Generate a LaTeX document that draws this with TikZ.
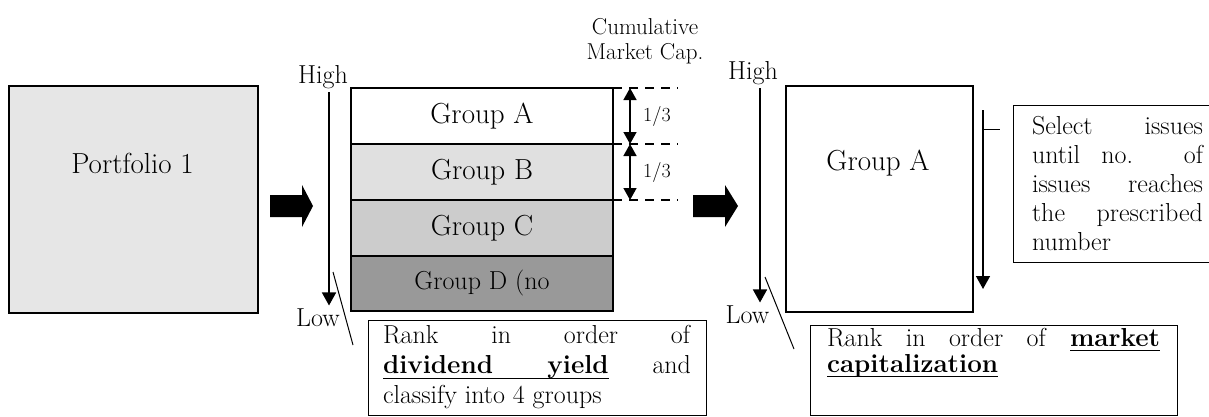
\documentclass[tikz,border=0pt]{standalone}
\usepackage{fontspec}
\usetikzlibrary{arrows.meta,positioning,calc}
\definecolor{panelgray}{RGB}{230,230,230}
\definecolor{paleB}{RGB}{224,224,224}
\definecolor{midC}{RGB}{204,204,204}
\definecolor{darkD}{RGB}{153,153,153}
\hyphenpenalty=10000
\newcommand\ulword[1]{\setbox0\hbox{#1}\rlap{\vrule height -3.8pt depth 5pt width \wd0}\box0}
\newcommand\ulgap{\leaders\hrule height -3.8pt depth 5pt\hskip\fontdimen2\font plus\fontdimen3\font minus\fontdimen4\font}

\begin{document}
\begin{tikzpicture}[x=1pt,y=-1pt,
 panel/.style={draw,line width=1.3pt,minimum width=249pt,minimum height=227pt,inner sep=0pt,outer sep=0pt},
 grp/.style={draw,line width=1.2pt,minimum width=262pt,minimum height=56pt,inner sep=0pt,outer sep=0pt,font=\fontsize{29}{32}\selectfont},
 biglbl/.style={font=\fontsize{29}{32}\selectfont},
 axlbl/.style={font=\fontsize{26}{30}\selectfont},
 note/.style={draw,line width=1pt,align=justify,inner ysep=3pt,outer sep=0pt,font=\fontsize{26}{29}\selectfont},
 bigarr/.style={fill=black},
 rank/.style={-{Triangle[length=13pt,width=14pt]},line width=1.5pt},
 dim/.style={{Triangle[length=12pt,width=13pt]}-{Triangle[length=12pt,width=13pt]},line width=1.5pt},
 lead/.style={line width=1pt},
 guide/.style={line width=1.2pt,dash pattern=on 9pt off 7pt}]
\useasboundingbox (0,0) rectangle (1209,416);
\node[panel,fill=panelgray,anchor=north west] (portfolio) at (9,86) {};
\node[biglbl] (portname) at (132.5,163) {Portfolio 1};
\coordinate (go1) at (270,195);
\fill[bigarr] (go1) -- ++(32,0) -- ++(0,-10) -- ++(11,21) -- ++(-11,21) -- ++(0,-10) -- ++(-32,0) -- cycle;
\node[grp,fill=white,anchor=north west] (grpA) at (351,88) {Group A};
\node[grp,fill=paleB,below=0pt of grpA] (grpB) {Group B};
\node[grp,fill=midC,below=0pt of grpB] (grpC) {Group C};
\node[grp,fill=darkD,below=0pt of grpC,minimum height=55pt,font=\fontsize{26}{30}\selectfont] (grpD) {Group D (no};
\node[axlbl] (highL) at (323,77) {High};
\node[axlbl] (lowL) at (318,318) {Low};
\draw[rank] ([xshift=6pt]highL.south) -- ([xshift=11pt]lowL.north);
\coordinate (ldL0) at (333,272); \coordinate (ldL1) at (353,345);
\draw[lead] (ldL0) -- (ldL1);
\node[note,text width=308pt,inner xsep=15pt,minimum height=95pt,anchor=north west,font=\fontsize{26}{30}\selectfont] (rankDiv) at (368,320)
 {Rank in order of\linebreak \textbf{\ulword{dividend}\ulgap\ulword{yield}} and\linebreak classify into 4 groups};
\coordinate[right=65pt of grpA.north east] (cap0);
\coordinate[right=65pt of grpB.north east] (cap1);
\coordinate[right=65pt of grpC.north east] (cap2);
\draw[guide] (grpA.north east) -- (cap0);
\draw[guide] (grpB.north east) -- (cap1);
\draw[guide] (grpC.north east) -- (cap2);
\coordinate[right=17pt of grpA.north east] (dm0);
\coordinate[right=17pt of grpB.north east] (dm1);
\coordinate[right=17pt of grpC.north east] (dm2);
\draw[dim] (dm0) -- (dm1); \draw[dim] (dm1) -- (dm2);
\coordinate (mid1) at ($(dm0)!.5!(dm1)$); \coordinate (mid2) at ($(dm1)!.5!(dm2)$);
\node[font=\fontsize{20}{24}\selectfont,anchor=west,inner sep=0pt] (thirdA) at ([xshift=13pt]mid1) {1/3};
\node[font=\fontsize{20}{24}\selectfont,anchor=west,inner sep=0pt] (thirdB) at ([xshift=13pt]mid2) {1/3};
\node[font=\fontsize{23}{25}\selectfont,align=center] (cumcap) at (645,41) {Cumulative\\Market Cap.};
\coordinate (go2) at (693,195);
\fill[bigarr] (go2) -- ++(32,0) -- ++(0,-10) -- ++(13,21) -- ++(-13,21) -- ++(0,-10) -- ++(-32,0) -- cycle;
\node[panel,fill=white,line width=1.2pt,minimum width=187pt,minimum height=226pt,anchor=north west] (topA) at (786,86) {};
\node[biglbl] (topAname) at (878,163) {Group A};
\node[axlbl] (highR) at (753,73) {High};
\node[axlbl] (lowR) at (747.5,315) {Low};
\draw[rank] ([xshift=7pt]highR.south) -- ([xshift=12.5pt]lowR.north);
\coordinate (ldR0) at (765,277); \coordinate (ldR1) at (794,349);
\draw[lead] (ldR0) -- (ldR1);
\node[note,text width=333pt,inner xsep=17pt,anchor=north west,font=\fontsize{26}{26}\selectfont] (rankCap) at (810,325)
 {Rank in order of \textbf{\ulword{market}} \textbf{\ulword{capitalization}}\rule[-40pt]{0pt}{40pt}};
\coordinate (selTop) at (983,110); \coordinate (selBot) at (983,289);
\draw[rank] (selTop) -- (selBot);
\coordinate (tick0) at (983,129);
\draw[lead] (tick0) -- ++(17,0);
\node[note,text width=171pt,inner xsep=19pt,minimum height=157pt,anchor=north west] (selbox) at (1013,105)
 {Select issues\linebreak until no. of\linebreak issues reaches\linebreak the prescribed\linebreak number};
\end{tikzpicture}
\end{document}
